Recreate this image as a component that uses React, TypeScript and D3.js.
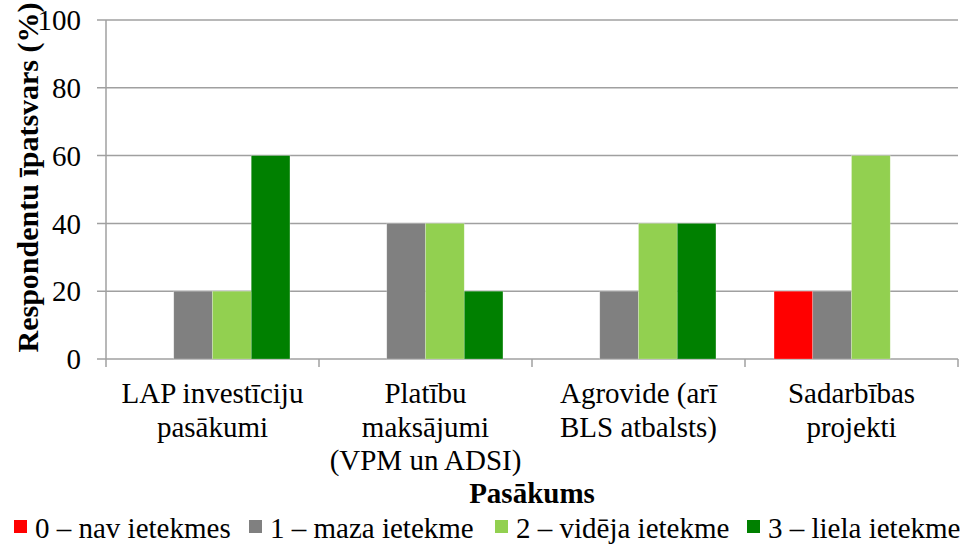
import React from "react";
import * as d3 from "d3";

const categories: string[][] = [
  ["LAP investīciju", "pasākumi"],
  ["Platību", "maksājumi", "(VPM un ADSI)"],
  ["Agrovide (arī", "BLS atbalsts)"],
  ["Sadarbības", "projekti"],
];
const seriesNames = ["0 – nav ietekmes", "1 – maza ietekme", "2 – vidēja ietekme", "3 – liela ietekme"];
const seriesColors = ["#FF0000", "#808080", "#92D050", "#008000"];
const s0 = [0, 0, 0, 20];
const s1 = [20, 40, 20, 20];
const s2 = [20, 40, 40, 60];
const s3 = [60, 20, 40, 0];
const seriesValues = [s0, s1, s2, s3];
const yTicks = [0, 20, 40, 60, 80, 100];
const yTitle = "Respondentu īpatsvars (%)";
const xTitle = "Pasākums";

const W = 964, H = 546;
const left = 106, right = 958, top = 20, bottom = 359;
const FONT = "Liberation Serif, Times New Roman, serif";
const GRID = "#A0A0A0";

export default function App() {
  const catIdx = categories.map((_, i) => String(i));
  const x0 = d3.scaleBand<string>().domain(catIdx).range([left, right]).padding(0);
  const x1 = d3.scaleBand<string>().domain(seriesNames).range([0, x0.bandwidth()]).paddingInner(0).paddingOuter(0.75);
  const y = d3.scaleLinear().domain([0, 100]).range([bottom, top]);
  const legendX = [14, 249, 495, 747];
  const ts = { fontFamily: FONT };

  return (
    <svg width={W} height={H} style={{ position: "absolute", left: 0, top: 0, background: "#fff", fontFamily: FONT }}>
      {/* gridlines */}
      {yTicks.map((t) => (
        <g key={t}>
          <line x1={97} x2={right} y1={y(t)} y2={y(t)} stroke={GRID} strokeWidth={1.5} />
          <text x={81} y={y(t)} dy="0.35em" textAnchor="end" fontSize={29} fill="#000" style={ts}>{t}</text>
        </g>
      ))}
      {/* y axis */}
      <line x1={left} x2={left} y1={top} y2={bottom} stroke={GRID} strokeWidth={1.5} />
      {/* x ticks */}
      {[...catIdx.map((c) => x0(c)!), right].map((px, i) => (
        <line key={i} x1={px} x2={px} y1={bottom} y2={bottom + 8} stroke={GRID} strokeWidth={1.5} />
      ))}
      {/* bars */}
      {seriesValues.map((vals, si) =>
        vals.map((v, ci) =>
          v > 0 ? (
            <rect
              key={`${si}-${ci}`}
              x={x0(String(ci))! + x1(seriesNames[si])!}
              y={y(v)}
              width={x1.bandwidth()}
              height={y(0) - y(v)}
              fill={seriesColors[si]}
              stroke="#ffffff"
              strokeOpacity={0.4}
              strokeWidth={0.6}
            />
          ) : null
        )
      )}
      {/* x labels */}
      {categories.map((lines, ci) => (
        <text key={ci} x={x0(String(ci))! + x0.bandwidth() / 2} y={403} textAnchor="middle" fontSize={29} fill="#000" style={ts}>
          {lines.map((l, li) => (
            <tspan key={li} x={x0(String(ci))! + x0.bandwidth() / 2} y={403 + li * 33.5}>{l}</tspan>
          ))}
        </text>
      ))}
      {/* axis titles */}
      <text x={(left + right) / 2} y={503} textAnchor="middle" fontSize={29} fontWeight="bold" fill="#000" style={ts}>{xTitle}</text>
      <text transform={`translate(38,${(top + bottom) / 2 - 12}) rotate(-90)`} textAnchor="middle" fontSize={30} fontWeight="bold" fill="#000" style={ts}>{yTitle}</text>
      {/* legend */}
      {seriesNames.map((n, i) => (
        <g key={n}>
          <rect x={legendX[i]} y={520} width={13} height={13} fill={seriesColors[i]} />
          <text x={legendX[i] + 21} y={538} fontSize={29} fill="#000" style={ts}>{n}</text>
        </g>
      ))}
    </svg>
  );
}
